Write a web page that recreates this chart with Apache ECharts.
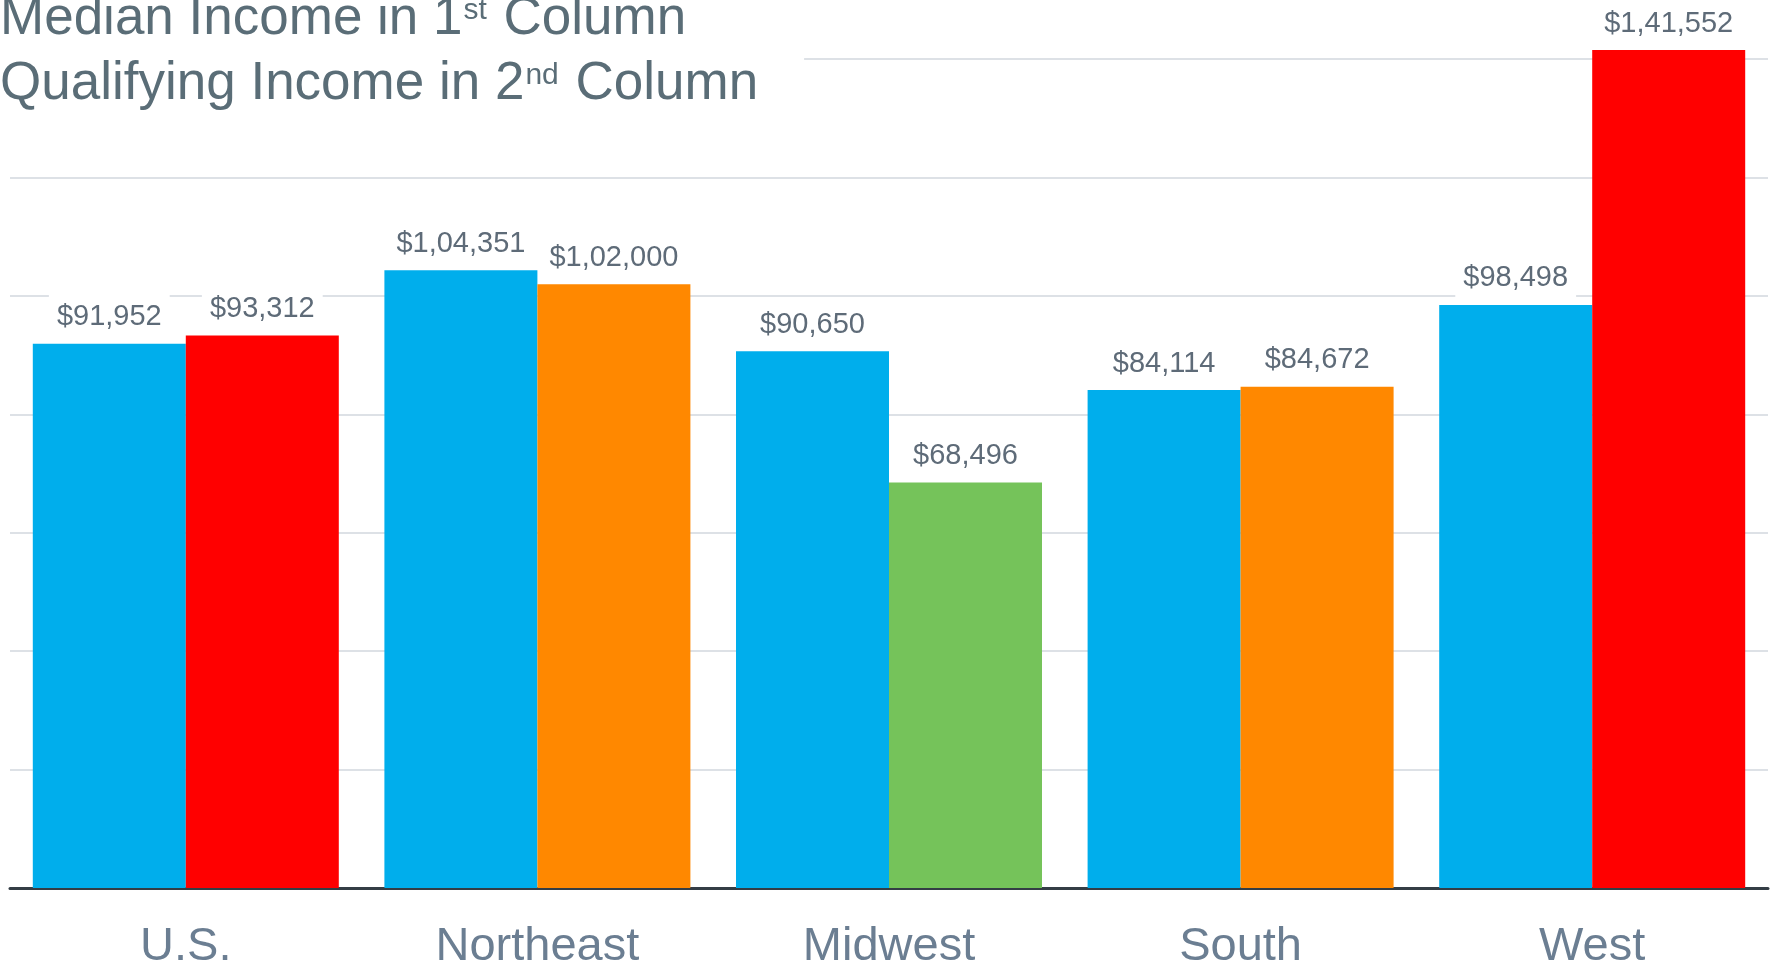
<!DOCTYPE html>
<html>
<head>
<meta charset="utf-8">
<title>Median vs Qualifying Income</title>
<script src="https://cdn.jsdelivr.net/npm/echarts@6/dist/echarts.min.js"></script>
<style>
    html, body { margin: 0; padding: 0; background: #fff; }
    #chart { width: 1775px; height: 966px; }
</style>
</head>
<body>
<div id="chart"></div>
<script>
// regions on the x axis
const regions = ['U.S.', 'Northeast', 'Midwest', 'South', 'West']
// 1st column: median income
const medianIncome = [91952, 104351, 90650, 84114, 98498]
// 2nd column: qualifying income
const qualifyingIncome = [93312, 102000, 68496, 84672, 141552]
const qualifyingColors = ['#FF0000', '#FF8800', '#75C35A', '#FF8800', '#FF0000']

const FONT = '"Liberation Sans", Arial, Helvetica, sans-serif'

// indian style grouping, e.g. 1,41,552
function inr (v) {
    let s = String(v)
    if (s.length <= 3) return '$' + s
    let last3 = s.slice(-3)
    let rest = s.slice(0, -3).replace(/\B(?=(\d{2})+(?!\d))/g, ',')
    return '$' + rest + ',' + last3
}

const barLabel = {
    show: true,
    position: 'top',
    distance: 8,
    formatter: p => inr(p.value),
    fontFamily: FONT,
    fontSize: 29,
    color: '#5E6B78',
    backgroundColor: '#fff',
    padding: [10, 8, 4, 8]
}

const chart = echarts.init(document.getElementById('chart'), null, {renderer: 'canvas'})

chart.setOption({
    animation: false,
    backgroundColor: '#fff',
    title: {
        left: 0,
        top: -13,
        padding: [0, 46, 12, 0],
        backgroundColor: '#fff',
        text: '{m|Median Income in 1}{s|st}{m| Column}\n{m|Qualifying Income in 2}{s|nd}{m| Column}',
        textStyle: {
            fontFamily: FONT,
            fontWeight: 'normal',
            color: '#5A6D77',
            lineHeight: 65,
            rich: {
                m: {fontFamily: FONT, fontWeight: 'normal', fontSize: 53, color: '#5A6D77', lineHeight: 65},
                s: {fontFamily: FONT, fontWeight: 'normal', fontSize: 30, color: '#5A6D77', lineHeight: 56, verticalAlign: 'top', padding: [9, 2, 0, 1]}
            }
        }
    },
    grid: {
        left: 10,
        right: 7,
        top: 0,
        bottom: 78,
        outerBoundsMode: 'none',
        containLabel: false
    },
    xAxis: {
        type: 'category',
        data: regions,
        axisTick: {show: false},
        axisLine: {lineStyle: {color: '#343D45', width: 3}},
        axisLabel: {
            fontFamily: FONT,
            fontSize: 47,
            color: '#6B7E92',
            margin: 36
        }
    },
    yAxis: {
        type: 'value',
        min: 0,
        max: 150000,
        interval: 20000,
        axisLabel: {show: false},
        axisLine: {show: false},
        axisTick: {show: false},
        splitLine: {showMaxLine: false, lineStyle: {color: '#DDE1E6', width: 2}}
    },
    series: [
        {
            name: 'Median Income',
            type: 'bar',
            data: medianIncome,
            barWidth: 153,
            barGap: '0%',
            itemStyle: {color: '#00AEEC'},
            label: barLabel
        },
        {
            name: 'Qualifying Income',
            type: 'bar',
            data: qualifyingIncome.map((v, i) => ({value: v, itemStyle: {color: qualifyingColors[i]}})),
            barWidth: 153,
            barGap: '0%',
            label: barLabel
        }
    ]
})
</script>
</body>
</html>
